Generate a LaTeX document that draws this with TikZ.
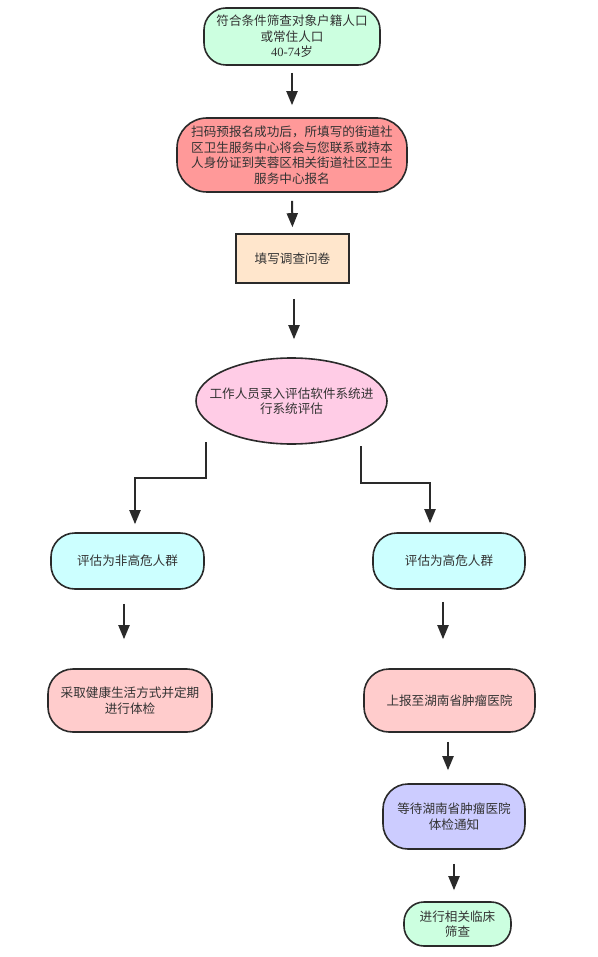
\documentclass[tikz,border=0pt]{standalone}
\usepackage{fontspec}
\newfontfamily\cjk{Noto Sans CJK SC}
\newfontfamily\serifd{Liberation Serif}
\usetikzlibrary{shapes.geometric,arrows.meta}
\definecolor{txt}{HTML}{333333}
\definecolor{edge}{HTML}{2A2A2A}
\definecolor{cgreen}{HTML}{CCFFE0}
\definecolor{cred}{HTML}{FF9999}
\definecolor{cbisque}{HTML}{FFE6CC}
\definecolor{cpink}{HTML}{FFCCE6}
\definecolor{ccyan}{HTML}{CCFFFF}
\definecolor{crose}{HTML}{FFCCCC}
\definecolor{clav}{HTML}{CCCCFF}
\tikzset{
  base/.style={draw=edge, line width=1.6pt, text=txt, align=center, inner sep=0pt,
    font=\cjk\fontsize{12.6}{15.5}\selectfont},
  pill/.style={base, rounded corners=#1},
  boxrect/.style={base},
  oval/.style={base, ellipse, inner xsep=-17pt, inner ysep=0pt},
  arr/.style={draw=edge, line width=2pt, -{Triangle[length=14pt,width=11pt]}},
}
\begin{document}
\begin{tikzpicture}[x=1pt,y=-1pt]
\useasboundingbox (0,0) rectangle (597,957);
\fill[white] (0,0) rectangle (597,957);

\node[pill=22, fill=cgreen, minimum width=176pt, minimum height=57pt] (n1) at (292,36.5)
  {符合条件筛查对象户籍人口\\或常住人口\\{\serifd 40-74}岁};
\node[pill=30, fill=cred, minimum width=230pt, minimum height=74pt] (n2) at (292,155)
  {扫码预报名成功后，所填写的街道社\\区卫生服务中心将会与您联系或持本\\人身份证到芙蓉区相关街道社区卫生\\服务中心报名};
\node[boxrect, fill=cbisque, minimum width=113pt, minimum height=49pt] (n3) at (292.5,258.5)
  {填写调查问卷};
\node[oval, fill=cpink, minimum width=191pt, minimum height=86pt] (n4) at (291.5,401)
  {工作人员录入评估软件系统进\\行系统评估};
\node[pill=24, fill=ccyan, minimum width=153pt, minimum height=56pt] (lc) at (127.5,561)
  {评估为非高危人群};
\node[pill=25, fill=crose, minimum width=164pt, minimum height=63pt] (lp) at (130,700.5)
  {采取健康生活方式并定期\\进行体检};
\node[pill=24, fill=ccyan, minimum width=152pt, minimum height=56pt] (rc) at (449,561)
  {评估为高危人群};
\node[pill=25, fill=crose, minimum width=171pt, minimum height=63pt] (rp) at (449.5,700.5)
  {上报至湖南省肿瘤医院};
\node[pill=25, fill=clav, minimum width=142pt, minimum height=65pt] (lv) at (454,816.5)
  {等待湖南省肿瘤医院\\体检通知};
\node[pill=20, fill=cgreen, minimum width=107pt, minimum height=44pt] (gb) at (457.5,924)
  {进行相关临床\\筛查};

\draw[arr, shorten <=7pt, shorten >=12pt] (n1.south) -- (n2.north);
\draw[arr, shorten <=8pt, shorten >=6pt] (n2.south) -- (n3.north);
\draw[arr, shorten <=15pt, shorten >=18pt] ([xshift=1.5pt]n3.south) -- ([xshift=1.5pt]n3.south |- n4.north);

\coordinate (e1) at (206,442);
\coordinate (l1) at (135,478);
\draw[arr, shorten >=8pt] (e1) |- (l1) -- (l1 |- lc.north);
\coordinate (e2) at (361,446);
\coordinate (r1) at (430,483);
\draw[arr, shorten >=9pt] (e2) |- (r1) -- (r1 |- rc.north);

\draw[arr, shorten <=14pt, shorten >=29pt] ([xshift=-3.5pt]lc.south) -- ([xshift=-3.5pt]lc.south |- lp.north);
\draw[arr, shorten <=12pt, shorten >=29pt] ([xshift=-6pt]rc.south) -- ([xshift=-6pt]rc.south |- rp.north);
\draw[arr, shorten <=9pt, shorten >=13pt] ([xshift=-1.5pt]rp.south) -- ([xshift=-1.5pt]rp.south |- lv.north);
\draw[arr, shorten <=14pt, shorten >=11pt] (lv.south) -- (lv.south |- gb.north);
\end{tikzpicture}
\end{document}
